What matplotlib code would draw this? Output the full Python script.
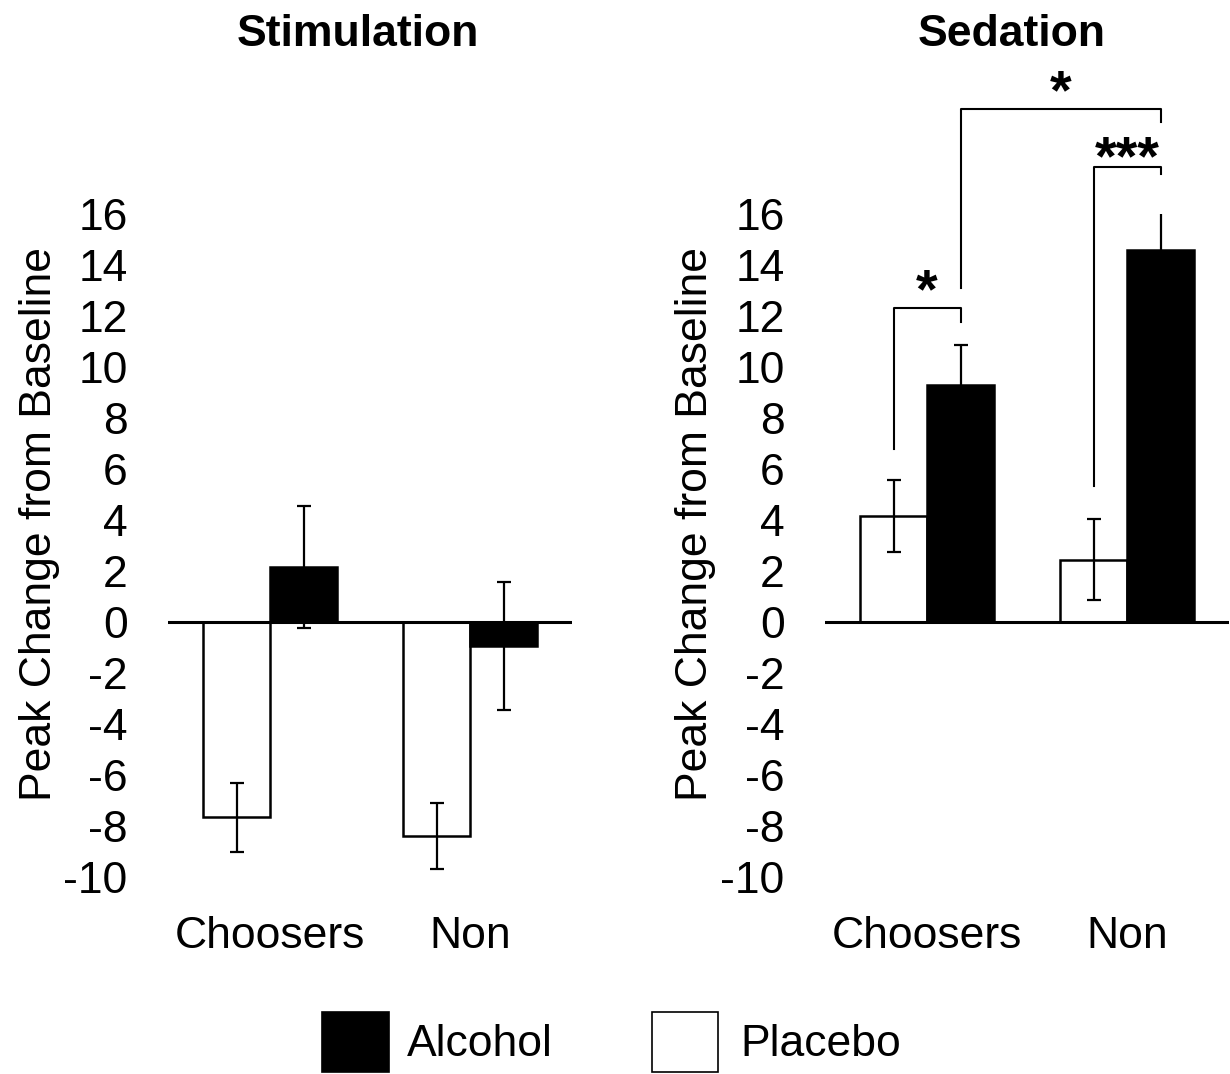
import numpy as np
import matplotlib
matplotlib.use("Agg")
import matplotlib.pyplot as plt
from matplotlib.patches import Rectangle

plt.rcParams['font.family'] = ['Liberation Sans', 'DejaVu Sans']

# group means and SEMs (peak change from baseline)
groups = ["Choosers", "Non"]

stimPlacebo = [-7.65, -8.4]
stimPlaceboErr = [1.35, 1.3]
stimAlcohol = [2.15, -0.95]
stimAlcoholErr = [2.4, 2.5]

sedPlacebo = [4.15, 2.45]
sedPlaceboErr = [1.4, 1.6]
sedAlcohol = [9.3, 14.6]
sedAlcoholErr = [1.55, 2.25]

yTicks = list(range(-10, 17, 2))

# significance brackets on the sedation panel: (from bar, to bar, left leg bottom, top, right leg bottom, star y, label)
# bars are indexed 0 = placebo choosers, 1 = alcohol choosers, 2 = placebo non, 3 = alcohol non
brackets = [
    (0, 1, 6.8, 12.3, 11.75, 13.3, "*"),
    (1, 3, 13.1, 20.1, 19.6, 21.1, "*"),
    (2, 3, 5.35, 17.85, 17.55, 18.5, "***"),
]

FS = 32
STAR_FS = 40
barWidth = 0.335

fig = plt.figure(figsize=(12.3, 10.74), dpi=100)
axBottom = 1 - 877 / 1074
axHeight = 663 / 1074
axLeft = fig.add_axes([168 / 1230, axBottom, 404 / 1230, axHeight])
axRight = fig.add_axes([825 / 1230, axBottom, 404 / 1230, axHeight])


def drawPanel(ax, placebo, placeboErr, alcohol, alcoholErr):
    x = np.arange(len(groups))
    xp = x - barWidth / 2
    xa = x + barWidth / 2
    ax.bar(xp, placebo, barWidth, color='white', edgecolor='black', linewidth=1.8, zorder=2)
    ax.bar(xa, alcohol, barWidth, color='black', edgecolor='black', linewidth=1.8, zorder=2)
    ax.errorbar(xp, placebo, yerr=placeboErr, fmt='none', ecolor='black',
                elinewidth=1.6, capsize=5, capthick=1.6, zorder=3)
    ax.errorbar(xa, alcohol, yerr=alcoholErr, fmt='none', ecolor='black',
                elinewidth=1.6, capsize=5, capthick=1.6, zorder=3)
    ax.axhline(0, color='black', linewidth=2.2, zorder=4)

    ax.set_xlim(-0.51, 1.51)
    ax.set_ylim(-10, 16)
    ax.set_yticks(yTicks)
    ax.set_yticklabels([str(t) for t in yTicks], fontsize=FS)
    ax.set_xticks(x)
    ax.set_xticklabels(groups, fontsize=FS)
    ax.tick_params(axis='y', length=0, pad=29)
    ax.tick_params(axis='x', length=0, pad=28)
    for s in ax.spines.values():
        s.set_visible(False)
    return np.concatenate([xp[:1], xa[:1], xp[1:], xa[1:]])


drawPanel(axLeft, stimPlacebo, stimPlaceboErr, stimAlcohol, stimAlcoholErr)
barX = drawPanel(axRight, sedPlacebo, sedPlaceboErr, sedAlcohol, sedAlcoholErr)

for b0, b1, y0, yTop, y1, yStar, label in brackets:
    x0 = barX[b0]
    x1 = barX[b1]
    axRight.plot([x0, x0, x1, x1], [y0, yTop, yTop, y1], color='black',
                 linewidth=1.5, clip_on=False)
    # asterisks sit high in the em box, so drop the baseline below the star centre
    axRight.annotate(label, xy=((x0 + x1) / 2, yStar), xytext=(0, -0.44 * STAR_FS),
                     textcoords='offset points', ha='center', va='baseline',
                     fontsize=STAR_FS, fontweight='bold', annotation_clip=False)

# titles and y labels
fig.text(358 / 1230, 1 - 35 / 1074, "Stimulation", fontsize=FS, fontweight='bold',
         ha='center', va='center')
fig.text(1012 / 1230, 1 - 35 / 1074, "Sedation", fontsize=FS, fontweight='bold',
         ha='center', va='center')
fig.text(40 / 1230, 1 - 524 / 1074, "Peak Change from Baseline", fontsize=FS,
         rotation=90, ha='center', va='center')
fig.text(696 / 1230, 1 - 524 / 1074, "Peak Change from Baseline", fontsize=FS,
         rotation=90, ha='center', va='center')

# legend squares along the bottom
fig.add_artist(Rectangle((322 / 1230, 2 / 1074), 67 / 1230, 60 / 1074,
                         transform=fig.transFigure, facecolor='black',
                         edgecolor='black', linewidth=1.2))
fig.text(407 / 1230, 1 - 1045 / 1074, "Alcohol", fontsize=FS, ha='left', va='center')
fig.add_artist(Rectangle((652 / 1230, 2 / 1074), 66 / 1230, 60 / 1074,
                         transform=fig.transFigure, facecolor='white',
                         edgecolor='black', linewidth=1.2))
fig.text(740 / 1230, 1 - 1045 / 1074, "Placebo", fontsize=FS, ha='left', va='center')

fig.savefig("out.png", dpi=100)
